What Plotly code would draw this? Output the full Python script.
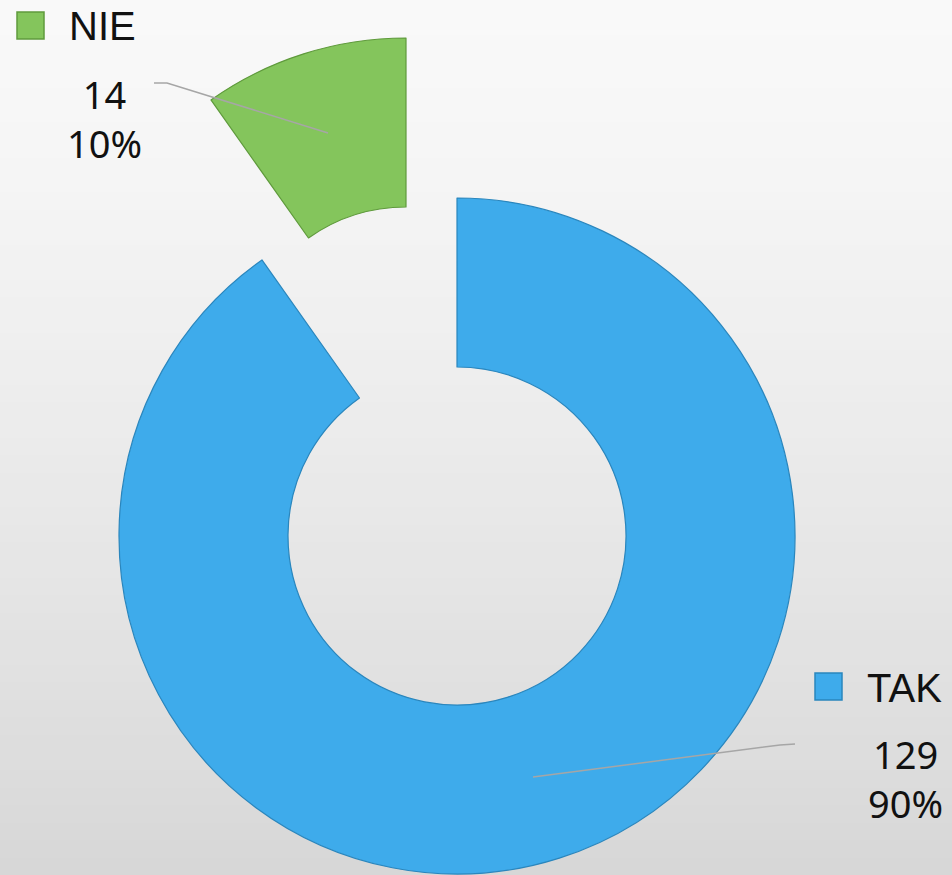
import plotly.graph_objects as go

# ---- data ----
labels = ["TAK", "NIE"]
values = [129, 14]
colors = ["#3eabeb", "#84c55c"]
edge_colors = ["#2a86bd", "#5f9a3c"]

# ---- geometry (pixels) ----
W, H = 952, 875
R = 338
HOLE = 0.5
centers = {"TAK": (457, 536), "NIE": (406, 376)}   # NIE slice is pulled out
legend_pos = {"NIE": (17, 12), "TAK": (815, 673)}   # top-left of legend square
label_pos = {"NIE": (104, 118), "TAK": (905, 778)}  # centre of value/percent block
leaders = {
    "NIE": [(154, 83), (167, 83), (328, 133)],
    "TAK": [(795, 744), (780, 745), (533, 777)],
}


def fx(x):
    return x / W


def fy(y):
    return 1 - y / H


def domain(cx, cy, r):
    return dict(x=[fx(cx - r), fx(cx + r)], y=[fy(cy + r), fy(cy - r)])


fig = go.Figure()

# background gradient (style only)
N = 50
for i in range(N):
    t0, t1 = i / N, (i + 1) / N
    tm = (t0 + t1) / 2
    g = round(249 - 34 * tm ** 1.3)
    fig.add_shape(type="rect", xref="paper", yref="paper", x0=0, x1=1,
                  y0=max(0, 1 - t1 - 0.003), y1=1 - t0, layer="below",
                  line=dict(width=0), fillcolor=f"rgb({g},{g},{g})")

total = sum(values)
for k, lab in enumerate(labels):
    cx, cy = centers[lab]
    fig.add_trace(go.Pie(
        labels=labels, values=values, sort=False, direction="clockwise",
        rotation=0, hole=HOLE, textinfo="none", hoverinfo="label+value+percent",
        showlegend=False, domain=domain(cx, cy, R),
        marker=dict(
            colors=[c if l == lab else "rgba(0,0,0,0)" for l, c in zip(labels, colors)],
            line=dict(color=[c if l == lab else "rgba(0,0,0,0)" for l, c in zip(labels, edge_colors)],
                      width=1.2),
        ),
    ))

# leader lines
for lab, pts in leaders.items():
    path = "M " + " L ".join(f"{fx(x)},{fy(y)}" for x, y in pts)
    fig.add_shape(type="path", xref="paper", yref="paper", path=path,
                  line=dict(color="#a6a6a6", width=1.5))

# legend-like squares and names, value labels
SQ = 27
for lab, val, col, ec in zip(labels, values, colors, edge_colors):
    sx, sy = legend_pos[lab]
    fig.add_shape(type="rect", xref="paper", yref="paper",
                  x0=fx(sx), x1=fx(sx + SQ), y0=fy(sy + SQ), y1=fy(sy),
                  fillcolor=col, line=dict(color=ec, width=1.5))
    fig.add_annotation(x=fx(sx + SQ + 23), y=fy(sy + SQ / 2 + 1), xref="paper", yref="paper",
                       xanchor="left", yanchor="middle", showarrow=False, text=lab,
                       font=dict(family="Liberation Sans, Arial", size=40, color="#111111"))
    lx, ly = label_pos[lab]
    pct = round(100 * val / total)
    fig.add_annotation(x=fx(lx), y=fy(ly), xref="paper", yref="paper",
                       xanchor="center", yanchor="middle", showarrow=False,
                       text=f"{val}<br>{pct}%", align="center",
                       font=dict(family="Noto Sans", size=38, color="#111111"))

fig.update_layout(
    width=W, height=H, autosize=False,
    margin=dict(l=0, r=0, t=0, b=0),
    paper_bgcolor="#dedede", plot_bgcolor="#dedede",
)

fig.write_html("out.html", config={"displayModeBar": False},
               post_script="document.body.style.margin='0';document.body.style.overflow='hidden';")
